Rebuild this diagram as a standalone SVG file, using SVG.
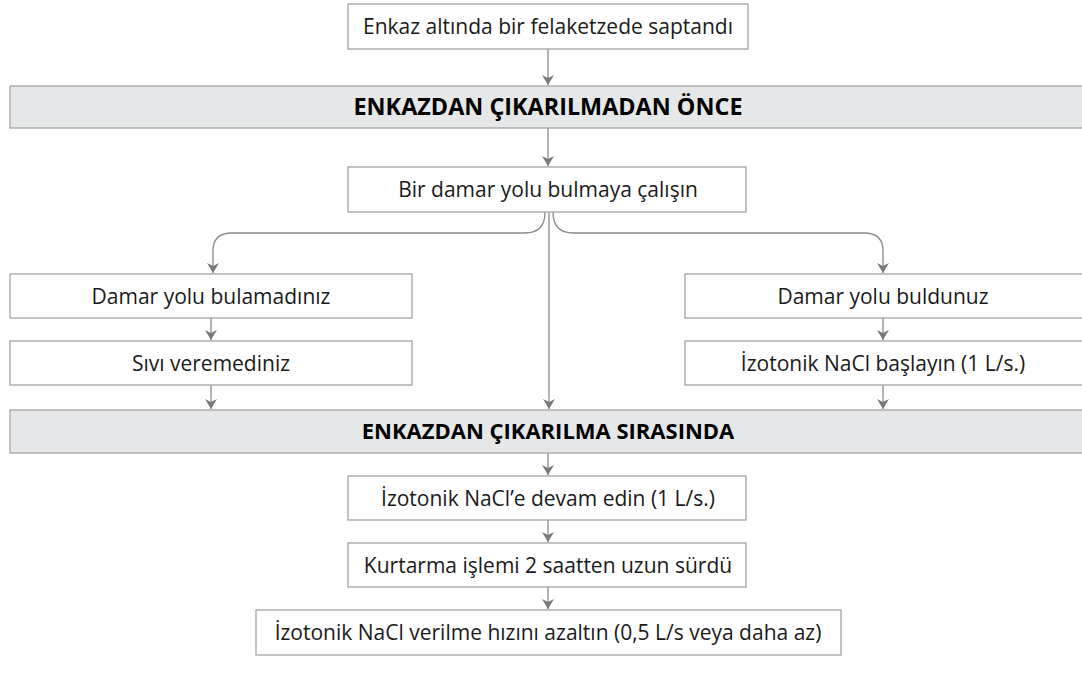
<svg xmlns="http://www.w3.org/2000/svg" width="1082" height="678" viewBox="0 0 1082 678">
<defs>
<style>
.box{fill:#ffffff;stroke:#a3a3a3;stroke-width:1.3}
.band{fill:#e6e7e8;stroke:#a3a3a3;stroke-width:1.3}
.t{font-family:"Open Sans","Noto Sans",sans-serif;font-size:21px;fill:#1a1a1a;text-anchor:middle}
.b{font-family:"Open Sans","Noto Sans",sans-serif;font-size:22px;font-weight:bold;fill:#000;text-anchor:middle}
.c{fill:none;stroke:#8a8a8a;stroke-width:1.3;marker-end:url(#ah)}
</style>
<marker id="ah" viewBox="0 0 10 14" refX="10" refY="7" markerWidth="10" markerHeight="14" markerUnits="userSpaceOnUse" orient="auto">
<path d="M0,1 L10,7 L0,13 L3,7 Z" fill="#7a7a7a"/>
</marker>
</defs>
<rect width="1082" height="678" fill="#ffffff"/>
<g id="connectors">
<path class="c" d="M548,49 L548,85"/>
<path class="c" d="M548,128 L548,166"/>
<path class="c" d="M545,212 Q545,233 525,233 L232,233 Q213,233 213,251 L213,273"/>
<path class="c" d="M553,212 Q553,233 573,233 L864,233 Q883,233 883,251 L883,273"/>
<path class="c" d="M549,212 L549,409"/>
<path class="c" d="M211,318 L211,340"/>
<path class="c" d="M211,385 L211,409"/>
<path class="c" d="M883,318 L883,340"/>
<path class="c" d="M883,385 L883,409"/>
<path class="c" d="M548,453 L548,475"/>
<path class="c" d="M548,520 L548,542"/>
<path class="c" d="M548,587 L548,609"/>
</g>
<g id="n1"><rect class="box" x="348" y="4" width="400" height="45"/><text class="t" x="548" y="34">Enkaz altında bir felaketzede saptandı</text></g>
<g id="band1"><rect class="band" x="10" y="86" width="1080" height="42"/><text class="b" x="548" y="115" style="font-size:23px" textLength="389" lengthAdjust="spacingAndGlyphs">ENKAZDAN ÇIKARILMADAN ÖNCE</text></g>
<g id="n2"><rect class="box" x="348" y="167" width="398" height="45"/><text class="t" x="548" y="197">Bir damar yolu bulmaya çalışın</text></g>
<g id="n3"><rect class="box" x="10" y="274" width="402" height="44"/><text class="t" x="211" y="304">Damar yolu bulamadınız</text></g>
<g id="n4"><rect class="box" x="10" y="341" width="402" height="44"/><text class="t" x="211" y="371">Sıvı veremediniz</text></g>
<g id="n5"><rect class="box" x="685" y="274" width="410" height="44"/><text class="t" x="883" y="304">Damar yolu buldunuz</text></g>
<g id="n6"><rect class="box" x="685" y="341" width="410" height="44"/><text class="t" x="883" y="371">İzotonik NaCl başlayın (1 L/s.)</text></g>
<g id="band2"><rect class="band" x="10" y="410" width="1080" height="43"/><text class="b" x="548" y="439">ENKAZDAN ÇIKARILMA SIRASINDA</text></g>
<g id="n7"><rect class="box" x="348" y="476" width="398" height="44"/><text class="t" x="548" y="506">İzotonik NaCl’e devam edin (1 L/s.)</text></g>
<g id="n8"><rect class="box" x="348" y="543" width="398" height="44"/><text class="t" x="548" y="573">Kurtarma işlemi 2 saatten uzun sürdü</text></g>
<g id="n9"><rect class="box" x="256" y="610" width="585" height="45"/><text class="t" x="548" y="640">İzotonik NaCl verilme hızını azaltın (0,5 L/s veya daha az)</text></g>
</svg>
